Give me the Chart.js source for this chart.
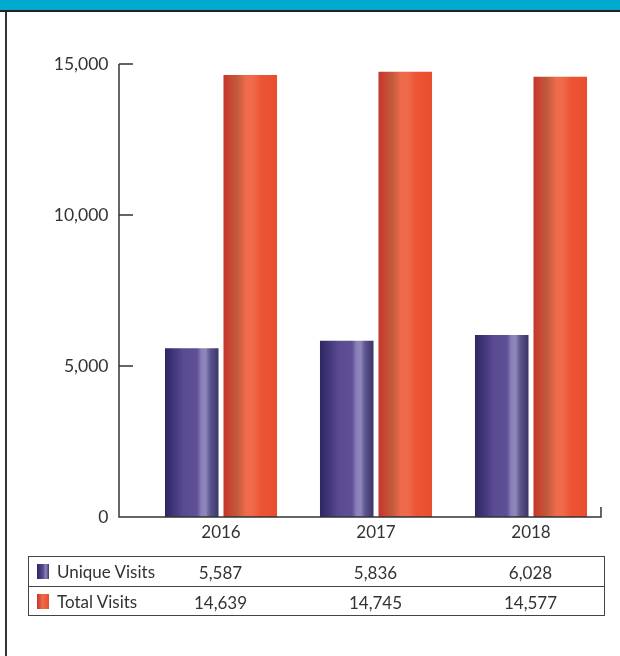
<!DOCTYPE html>
<html>
<head>
<meta charset="utf-8">
<script src="https://cdn.jsdelivr.net/npm/chart.js@4"></script>
<style>
  html, body { margin: 0; padding: 0; background: #fff; }
  body { width: 620px; height: 656px; position: relative; overflow: hidden; font-family: Lato, "Open Sans", sans-serif; color: #333; }
  #header { position: absolute; left: 0; top: 0; width: 620px; height: 10px; background: #00a9ce; border-bottom: 2px solid #222; }
  #leftline { position: absolute; left: 5px; top: 12px; width: 2px; height: 644px; background: #333; }
  #wrap { position: absolute; left: 0; top: 0; width: 620px; height: 656px; }
  #table { position: absolute; left: 28px; top: 556px; width: 575px; height: 58px; border: 1.5px solid #444; }
  .row { position: absolute; left: 0; width: 100%; height: 29px; }
  .row + .row { border-top: 1.5px solid #444; }
  .sw { position: absolute; left: 8px; top: 7px; width: 12px; height: 15px; }
  .name { position: absolute; left: 28px; top: 4px; font-size: 17px; }
  .val { position: absolute; top: 5px; font-size: 17px; transform: translateX(-50%); white-space: nowrap; }
</style>
</head>
<body>
<div id="header"></div>
<div id="leftline"></div>
<div id="wrap"><canvas id="myChart" width="620" height="656"></canvas></div>
<div id="table"></div>
<script>
var years = ["2016", "2017", "2018"];
var uniqueVisits = [5587, 5836, 6028];
var totalVisits = [14639, 14745, 14577];
var seriesNames = ["Unique Visits", "Total Visits"];
var yTicks = [0, 5000, 10000, 15000];

var catPct = 0.755, barPct = 0.915;

var purpleStops = [[0, "#2c2760"], [0.15, "#3f3577"], [0.35, "#5a4a92"], [0.6, "#5f5096"], [0.68, "#8a80b8"], [0.76, "#8f86ba"], [0.84, "#5d5690"], [1, "#3a3566"]];
var redStops = [[0, "#c4352a"], [0.12, "#c94633"], [0.25, "#bf5a3c"], [0.42, "#ee6b4c"], [0.55, "#ef6a4b"], [0.7, "#ec5534"], [1, "#e84e2d"]];

function fmt(v) { return v.toLocaleString("en-US"); }

function barFill(stops) {
  return function(ctx) {
    var chart = ctx.chart;
    var xs = chart.scales.x;
    if (!xs || !chart.chartArea) return stops[3][1];
    var cat = xs.width / years.length;
    var slot = cat * catPct / 2;
    var w = slot * barPct;
    var c = xs.getPixelForValue(ctx.dataIndex) + (ctx.datasetIndex === 0 ? -slot / 2 : slot / 2);
    var g = chart.ctx.createLinearGradient(c - w / 2, 0, c + w / 2, 0);
    stops.forEach(function(s) { g.addColorStop(s[0], s[1]); });
    return g;
  };
}

var axisPlugin = {
  id: "axes",
  afterDraw: function(chart) {
    var ctx = chart.ctx, a = chart.chartArea, ys = chart.scales.y;
    var ax = a.left - 24.5, ex = a.right - 7.5;
    ctx.save();
    ctx.strokeStyle = "#333";
    ctx.lineWidth = 1.5;
    ctx.beginPath();
    ctx.moveTo(ax, ys.getPixelForValue(15000));
    ctx.lineTo(ax, a.bottom);
    ctx.lineTo(ex, a.bottom);
    ctx.lineTo(ex, a.bottom - 10);
    yTicks.forEach(function(t) {
      if (t === 0) return;
      var y = ys.getPixelForValue(t);
      ctx.moveTo(ax, y);
      ctx.lineTo(ax + 14, y);
    });
    ctx.stroke();
    ctx.restore();
  }
};

var chart = new Chart("myChart", {
  type: "bar",
  data: {
    labels: years,
    datasets: [
      { label: seriesNames[0], data: uniqueVisits, backgroundColor: barFill(purpleStops), categoryPercentage: catPct, barPercentage: barPct },
      { label: seriesNames[1], data: totalVisits, backgroundColor: barFill(redStops), categoryPercentage: catPct, barPercentage: barPct }
    ]
  },
  options: {
    responsive: false,
    animation: false,
    layout: { padding: { left: 40.5, right: 11.5, top: 64, bottom: 111 } },
    plugins: { legend: { display: false }, tooltip: { enabled: false } },
    scales: {
      x: {
        grid: { display: false, drawTicks: false },
        border: { display: false },
        ticks: { color: "#333", padding: 5, font: { family: "Lato", size: 17 } },
        afterFit: function(s) { s.height = 28; }
      },
      y: {
        min: 0, max: 15000,
        grid: { display: false, drawTicks: false },
        border: { display: false },
        afterBuildTicks: function(s) { s.ticks = yTicks.map(function(v) { return { value: v }; }); },
        ticks: { color: "#333", padding: 35, font: { family: "Lato", size: 17.5 }, callback: function(v) { return fmt(v); } },
        afterFit: function(s) { s.width = 103; }
      }
    }
  },
  plugins: [axisPlugin]
});

// data table under the chart
var table = document.getElementById("table");
var tableLeft = 28 + 1.5;
var rows = [uniqueVisits, totalVisits];
var swatches = [
  "linear-gradient(to right, #2c2760, #5a4a92 50%, #8f86ba 75%, #3a3566)",
  "linear-gradient(to right, #c4352a, #ee6b4c 45%, #e84e2d)"
];
rows.forEach(function(vals, r) {
  var row = document.createElement("div");
  row.className = "row";
  row.style.top = (r * 29) + "px";
  var sw = document.createElement("div");
  sw.className = "sw";
  sw.style.background = swatches[r];
  row.appendChild(sw);
  var nm = document.createElement("div");
  nm.className = "name";
  nm.textContent = seriesNames[r];
  row.appendChild(nm);
  vals.forEach(function(v, i) {
    var d = document.createElement("div");
    d.className = "val";
    d.style.left = (chart.scales.x.getPixelForValue(i) - tableLeft) + "px";
    d.textContent = fmt(v);
    row.appendChild(d);
  });
  table.appendChild(row);
});
</script>
</body>
</html>
